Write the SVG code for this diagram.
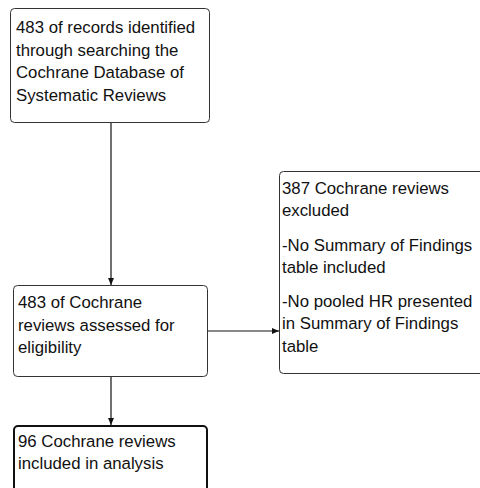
<svg xmlns="http://www.w3.org/2000/svg" width="480" height="488" viewBox="0 0 480 488">
<style>
.box{fill:#fff;stroke:#333;stroke-width:1}
.thick{stroke:#111;stroke-width:2}
.t{font-family:"Liberation Sans",Arial,sans-serif;font-size:16.8px;fill:#111}
.c{stroke:#111;stroke-width:1.2;fill:none}
</style>
<defs>
<marker id="ah" markerWidth="8" markerHeight="8" refX="7" refY="4" orient="auto" markerUnits="userSpaceOnUse">
<path d="M0,1 L7,4 L0,7 Z" fill="#111"/>
</marker>
</defs>
<rect width="480" height="488" fill="#fff"/>
<g id="connectors">
<line class="c" x1="111" y1="122" x2="111" y2="285" marker-end="url(#ah)"/>
<line class="c" x1="111" y1="376" x2="111" y2="425" marker-end="url(#ah)"/>
<line class="c" x1="208" y1="331" x2="279" y2="331" marker-end="url(#ah)"/>
</g>
<g id="n1">
<rect class="box" x="10.5" y="8.5" width="199" height="114" rx="4"/>
<text class="t" x="16" y="33">483 of records identified</text>
<text class="t" x="16" y="55.5">through searching the</text>
<text class="t" x="16" y="78">Cochrane Database of</text>
<text class="t" x="16" y="100.5">Systematic Reviews</text>
</g>
<g id="n2">
<rect class="box" x="13.5" y="285.5" width="194" height="91" rx="4"/>
<text class="t" x="18" y="308">483 of Cochrane</text>
<text class="t" x="18" y="331">reviews assessed for</text>
<text class="t" x="18" y="353">eligibility</text>
</g>
<g id="n3">
<rect class="box thick" x="14" y="426" width="193" height="80" rx="4"/>
<text class="t" x="18" y="447">96 Cochrane reviews</text>
<text class="t" x="18" y="469">included in analysis</text>
</g>
<g id="n4">
<rect class="box" x="279.5" y="171.5" width="210" height="202" rx="4"/>
<text class="t" x="282" y="194">387 Cochrane reviews</text>
<text class="t" x="282" y="216">excluded</text>
<text class="t" x="282" y="251">-No Summary of Findings</text>
<text class="t" x="282" y="273">table included</text>
<text class="t" x="282" y="307">-No pooled HR presented</text>
<text class="t" x="282" y="329">in Summary of Findings</text>
<text class="t" x="282" y="352">table</text>
</g>
</svg>
